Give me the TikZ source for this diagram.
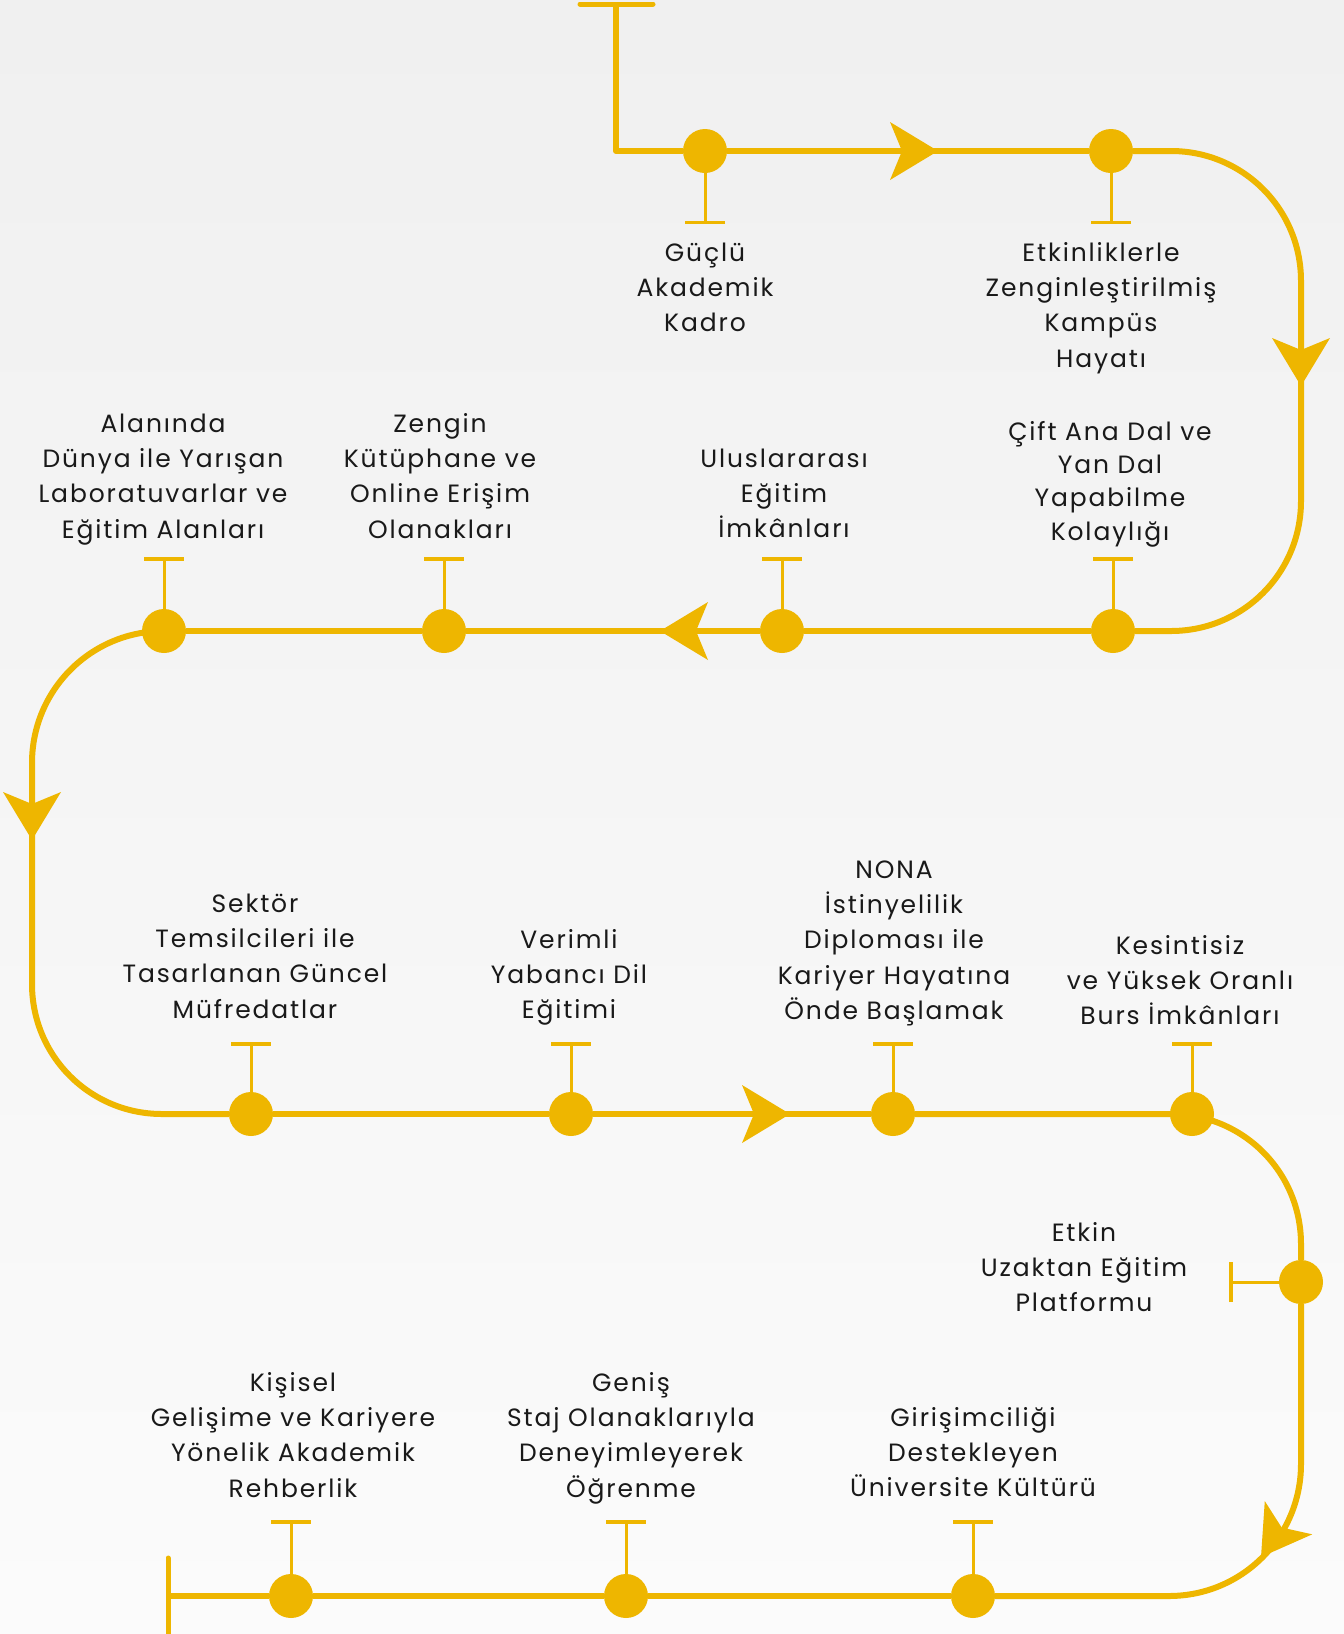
\documentclass[tikz,border=0pt]{standalone}
\usepackage{fontspec}
\setmainfont{Poppins}[LetterSpace=7.5]
\usetikzlibrary{arrows.meta,backgrounds}
\definecolor{ylw}{RGB}{238,182,0}
\definecolor{txt}{RGB}{25,25,25}
\definecolor{bgtop}{RGB}{240,240,240}
\definecolor{bgbot}{RGB}{251,251,251}
\newcommand\myst{\rule{0pt}{24pt}}
\begin{document}
\begin{tikzpicture}[x=1pt,y=-1pt,
  main/.style={draw=ylw, line width=6pt, line join=round},
  tick/.style={draw=ylw, line width=3pt, -{Bar[width=40pt,line width=3.5pt]}},
  endbar/.style={draw=ylw, line width=5pt, line cap=round},
  dot/.style={circle, fill=ylw, minimum size=44pt, inner sep=0pt},
  lbl/.style={align=center, anchor=north, inner sep=0pt, text=txt, font=\fontsize{25}{35.3}\selectfont},
  dart/.pic={\fill[ylw] (0,0) -- (-48,-29) -- (-36,0) -- (-48,29) -- cycle;}
]
\useasboundingbox (0,0) rectangle (1344,1634);
% dots
\node[dot] (A1) at (705,151) {};
\node[dot] (A2) at (1111,151) {};
\node[dot] (B1) at (1113,631) {};
\node[dot] (B2) at (782,631) {};
\node[dot] (B3) at (444,631) {};
\node[dot] (B4) at (164,631) {};
\node[dot] (C1) at (251,1114) {};
\node[dot] (C2) at (571,1114) {};
\node[dot] (C3) at (893,1114) {};
\node[dot] (C4) at (1192,1114) {};
\node[dot] (D1) at (1301,1282) {};
\node[dot] (E1) at (973,1596) {};
\node[dot] (E2) at (626,1596) {};
\node[dot] (E3) at (291,1596) {};
\coordinate (S) at (616,4);
\coordinate (F) at (168,1596);
\begin{scope}[on background layer]
\shade[top color=bgtop, bottom color=bgbot] (0,0) rectangle (1344,1634);
% main path
\draw[endbar] ([xshift=-36pt]S) -- ([xshift=37pt]S);
\draw[main] (S) |- (A1);
\draw[main] (A1) -- (A2);
\draw[main] (A2) -- (1171,151) .. controls (1243,151) and (1301,209) .. (1301,281) -- (1301,501) .. controls (1301,573) and (1243,631) .. (1171,631) -- (B1);
\draw[main] (B1) -- (B2);
\draw[main] (B2) -- (B3);
\draw[main] (B3) -- (B4);
\draw[main] (B4.center) .. controls (91,631) and (32,690) .. (32,763) -- (32,984) .. controls (32,1056) and (90,1114) .. (162,1114) -- (C1);
\draw[main] (C1) -- (C2);
\draw[main] (C2) -- (C3);
\draw[main] (C3) -- (1171,1114) .. controls (1243,1114) and (1301,1172) .. (1301,1244) -- (D1);
\draw[main] (D1) -- (1301,1464) .. controls (1301,1537) and (1242,1596) .. (1169,1596) -- (E1);
\draw[main] (E1) -- (E2);
\draw[main] (E2) -- (E3);
\draw[main] (E3) -- (F);
\draw[endbar] ([yshift=38pt]F) -- ([yshift=-38pt]F);
% arrowheads
\pic at (938,151) {dart};
\pic[rotate=-90] at (1301,386) {dart};
\pic[rotate=180] at (660,631) {dart};
\pic[rotate=-90] at (32,840) {dart};
\pic at (790,1114) {dart};
\pic[rotate=-125] at (1261,1557) {dart};
% ticks
\draw[tick] (A1) -- ++(0,73) coordinate (tA1);
\draw[tick] (A2) -- ++(0,73) coordinate (tA2);
\draw[tick] (B1) -- ++(0,-74) coordinate (tB1);
\draw[tick] (B2) -- ++(0,-74) coordinate (tB2);
\draw[tick] (B3) -- ++(0,-74) coordinate (tB3);
\draw[tick] (B4) -- ++(0,-74) coordinate (tB4);
\draw[tick] (C1) -- ++(0,-72) coordinate (tC1);
\draw[tick] (C2) -- ++(0,-72) coordinate (tC2);
\draw[tick] (C3) -- ++(0,-72) coordinate (tC3);
\draw[tick] (C4) -- ++(0,-72) coordinate (tC4);
\draw[tick] (D1) -- ++(-72,0) coordinate (tD1);
\draw[tick] (E1) -- ++(0,-76) coordinate (tE1);
\draw[tick] (E2) -- ++(0,-76) coordinate (tE2);
\draw[tick] (E3) -- ++(0,-76) coordinate (tE3);
\end{scope}
% labels
\node[lbl] (LA1) at (705,237) {\myst Güçlü\\Akademik\\Kadro};
\node[lbl] (LA2) at (1101,237) {\myst Etkinliklerle\\Zenginleştirilmiş\\Kampüs\\Hayatı};
\node[lbl, font=\fontsize{25}{33.3}\selectfont] (LB1) at (1110,416) {\myst Çift Ana Dal ve\\Yan Dal\\Yapabilme\\Kolaylığı};
\node[lbl] (LB2) at (784,443) {\myst Uluslararası\\Eğitim\\İmkânları};
\node[lbl] (LB3) at (440,408) {\myst Zengin\\Kütüphane ve\\Online Erişim\\Olanakları};
\node[lbl] (LB4) at (163,408) {\myst Alanında\\Dünya ile Yarışan\\Laboratuvarlar ve\\Eğitim Alanları};
\node[lbl] (LC1) at (255,888) {\myst Sektör\\Temsilcileri ile\\Tasarlanan Güncel\\Müfredatlar};
\node[lbl] (LC2) at (569,924) {\myst Verimli\\Yabancı Dil\\Eğitimi};
\node[lbl] (LC3) at (894,854) {\myst NONA\\İstinyelilik\\Diploması ile\\Kariyer Hayatına\\Önde Başlamak};
\node[lbl] (LC4) at (1180,930) {\myst Kesintisiz\\ve Yüksek Oranlı\\Burs İmkânları};
\node[lbl] (LD1) at (1084,1217) {\myst Etkin\\Uzaktan Eğitim\\Platformu};
\node[lbl] (LE3) at (293,1367) {\myst Kişisel\\Gelişime ve Kariyere\\Yönelik Akademik\\Rehberlik};
\node[lbl] (LE2) at (631,1367) {\myst Geniş\\Staj Olanaklarıyla\\Deneyimleyerek\\Öğrenme};
\node[lbl] (LE1) at (973,1402) {\myst Girişimciliği\\Destekleyen\\Üniversite Kültürü};
\end{tikzpicture}
\end{document}
